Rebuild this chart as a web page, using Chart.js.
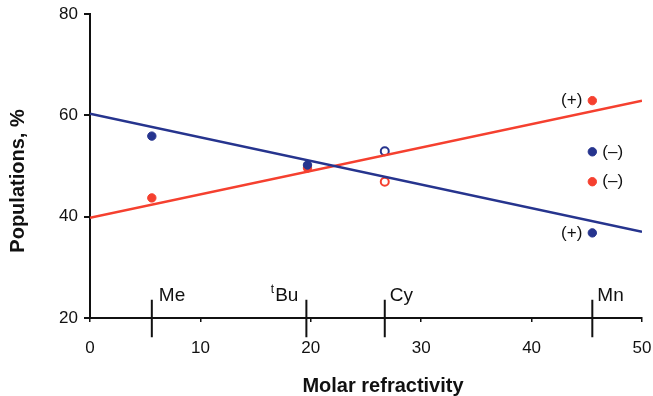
<!DOCTYPE html>
<html>
<head>
<meta charset="utf-8">
<script src="https://cdn.jsdelivr.net/npm/chart.js@4"></script>
<style>
    html, body { margin: 0; padding: 0; background: #fff; }
    #wrap { width: 653px; height: 396px; }
</style>
</head>
<body>
<div id="wrap"><canvas id="chart" width="653" height="396"></canvas></div>
<script>
// Substituent markers along the molar refractivity axis
const markerX = [5.6, 19.6, 26.7, 45.5];
const markerLabels = ['Me', 'tBu', 'Cy', 'Mn'];
const markerTop = 23.6;
const markerBottom = 16.2;

// Populations (%) of the two conformers
const blueFilled = [
    { x: 5.6, y: 55.9 },
    { x: 19.7, y: 50.2 },
    { x: 45.5, y: 52.8 },
    { x: 45.5, y: 36.8 }
];
const redFilled = [
    { x: 5.6, y: 43.7 },
    { x: 19.7, y: 49.6 },
    { x: 45.5, y: 62.9 },
    { x: 45.5, y: 46.9 }
];
const blueOpen = [{ x: 26.7, y: 52.9 }];
const redOpen = [{ x: 26.7, y: 46.9 }];

// Linear fits
const blueFit = [{ x: 0, y: 60.3 }, { x: 50, y: 37.0 }];
const redFit = [{ x: 0, y: 39.8 }, { x: 50, y: 62.9 }];

// Sign labels beside the Mn points: [point, text, side]
const signLabels = [
    [redFilled[2], '(+)', 'left'],
    [blueFilled[2], '(\u2013)', 'right'],
    [redFilled[3], '(\u2013)', 'right'],
    [blueFilled[3], '(+)', 'left']
];

const xTicks = [0, 10, 20, 30, 40, 50];
const yTicks = [20, 40, 60, 80];

const BLUE = '#26348e';
const RED = '#f5402f';
const INK = '#111';
const FONT = '"Liberation Sans", Arial, sans-serif';

const markerSets = markerX.map(x => ({
    type: 'line',
    data: [{ x: x, y: markerTop }, { x: x, y: markerBottom }],
    borderColor: INK,
    borderWidth: 2,
    pointRadius: 0,
    clip: false
}));

// Text for markers, sign labels and axis titles
const textPlugin = {
    id: 'textLabels',
    afterDatasetsDraw(chart) {
        const { ctx, scales: { x, y } } = chart;
        ctx.save();
        ctx.fillStyle = INK;
        ctx.textBaseline = 'alphabetic';

        // x axis line runs a little past the y axis
        ctx.strokeStyle = INK;
        ctx.lineWidth = 2;
        ctx.beginPath();
        ctx.moveTo(x.left - 6, y.bottom);
        ctx.lineTo(x.left, y.bottom);
        ctx.stroke();

        markerLabels.forEach((label, i) => {
            const px = x.getPixelForValue(markerX[i]);
            const py = y.getPixelForValue(markerTop) + 1;
            ctx.font = '19px ' + FONT;
            if (label === 'tBu') {
                ctx.textAlign = 'right';
                const right = px - 8;
                ctx.fillText('Bu', right, py);
                const w = ctx.measureText('Bu').width;
                ctx.font = '12px ' + FONT;
                ctx.fillText('t', right - w - 1, py - 8);
            } else {
                ctx.textAlign = 'left';
                ctx.fillText(label, px + (i === 0 ? 7 : 5), py);
            }
        });

        ctx.font = '17px ' + FONT;
        ctx.textBaseline = 'middle';
        signLabels.forEach(([pt, text, side]) => {
            const px = x.getPixelForValue(pt.x);
            const py = y.getPixelForValue(pt.y);
            if (side === 'left') {
                ctx.textAlign = 'right';
                ctx.fillText(text, px - 10, py);
            } else {
                ctx.textAlign = 'left';
                ctx.fillText(text, px + 10, py);
            }
        });

        ctx.font = 'bold 20px ' + FONT;
        ctx.textAlign = 'center';
        ctx.fillText('Molar refractivity', 383, 386);
        ctx.translate(18, 181);
        ctx.rotate(-Math.PI / 2);
        ctx.fillText('Populations, %', 0, 0);
        ctx.restore();
    }
};

new Chart(document.getElementById('chart'), {
    type: 'scatter',
    data: {
        datasets: [
            {
                type: 'line',
                data: blueFit,
                borderColor: BLUE,
                borderWidth: 2.5,
                pointRadius: 0
            },
            {
                type: 'line',
                data: redFit,
                borderColor: RED,
                borderWidth: 2.5,
                pointRadius: 0
            },
            ...markerSets,
            {
                data: blueFilled,
                backgroundColor: BLUE,
                borderColor: BLUE,
                pointRadius: 4.2
            },
            {
                data: redFilled,
                backgroundColor: RED,
                borderColor: RED,
                pointRadius: 4.2
            },
            {
                data: blueOpen,
                backgroundColor: '#fff',
                borderColor: BLUE,
                borderWidth: 2,
                pointRadius: 4
            },
            {
                data: redOpen,
                backgroundColor: '#fff',
                borderColor: RED,
                borderWidth: 2,
                pointRadius: 4
            }
        ]
    },
    options: {
        responsive: false,
        animation: false,
        layout: { padding: { top: 14, right: 11, left: 0, bottom: 0 } },
        plugins: {
            legend: { display: false },
            tooltip: { enabled: false }
        },
        scales: {
            x: {
                type: 'linear',
                min: 0,
                max: 50,
                afterBuildTicks: scale => { scale.ticks = xTicks.map(v => ({ value: v })); },
                afterFit: scale => {
                    scale.height = 78;
                    scale.paddingLeft = 0;
                    scale.paddingRight = 0;
                },
                grid: {
                    drawOnChartArea: false,
                    drawTicks: true,
                    tickLength: 4,
                    color: INK,
                    lineWidth: 1.5
                },
                border: { display: true, color: INK, width: 2 },
                ticks: {
                    padding: 16,
                    color: INK,
                    font: { family: FONT, size: 17 }
                }
            },
            y: {
                type: 'linear',
                min: 20,
                max: 80,
                afterBuildTicks: scale => { scale.ticks = yTicks.map(v => ({ value: v })); },
                afterFit: scale => {
                    scale.width = 90;
                    scale.paddingTop = 0;
                    scale.paddingBottom = 0;
                },
                grid: {
                    drawOnChartArea: false,
                    drawTicks: true,
                    tickLength: 6,
                    color: INK,
                    lineWidth: 2
                },
                border: { display: true, color: INK, width: 2 },
                ticks: {
                    padding: 6,
                    color: INK,
                    font: { family: FONT, size: 17 }
                }
            }
        }
    },
    plugins: [textPlugin]
});
</script>
</body>
</html>
